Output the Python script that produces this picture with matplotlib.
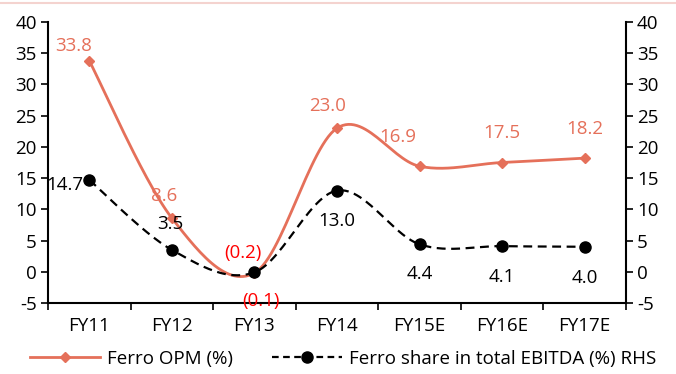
import matplotlib
matplotlib.use('Agg')
import matplotlib.pyplot as plt
from matplotlib.lines import Line2D
import numpy as np

plt.rcParams['font.family'] = ['Open Sans', 'DejaVu Sans']
plt.rcParams['axes.unicode_minus'] = False

categories = ['FY11', 'FY12', 'FY13', 'FY14', 'FY15E', 'FY16E', 'FY17E']
opm = [33.8, 8.6, -0.2, 23.0, 16.9, 17.5, 18.2]
share = [14.7, 3.5, -0.1, 13.0, 4.4, 4.1, 4.0]
opm_labels = ['33.8', '8.6', '(0.2)', '23.0', '16.9', '17.5', '18.2']
share_labels = ['14.7', '3.5', '(0.1)', '13.0', '4.4', '4.1', '4.0']

orange = '#E5705A'
fs = 13.5


def smooth(x, y, n=30):
    # excel-like smoothed line (bezier through points)
    x = np.asarray(x, float)
    y = np.asarray(y, float)
    px = np.r_[x[0], x, x[-1]]
    py = np.r_[y[0], y, y[-1]]
    t = np.linspace(0, 1, n)
    xs, ys = [], []
    for i in range(1, len(px) - 2):
        p0 = np.array([px[i], py[i]])
        p3 = np.array([px[i + 1], py[i + 1]])
        c1 = p0 + (p3 - np.array([px[i - 1], py[i - 1]])) / 6
        c2 = p3 - (np.array([px[i + 2], py[i + 2]]) - p0) / 6
        b = ((1 - t) ** 3)[:, None] * p0 + (3 * (1 - t) ** 2 * t)[:, None] * c1 \
            + (3 * (1 - t) * t ** 2)[:, None] * c2 + (t ** 3)[:, None] * p3
        xs.append(b[:, 0])
        ys.append(b[:, 1])
    return np.concatenate(xs), np.concatenate(ys)


fig = plt.figure(figsize=(6.76, 3.74), dpi=100)
ax = fig.add_axes([0.071, 0.19, 0.855, 0.751])
ax2 = ax.twinx()

x = np.arange(len(categories))

sx, sy = smooth(x, opm)
ax.plot(sx, sy, color=orange, lw=2)
ax.plot(x, opm, ls='none', marker='D', ms=5.5, color=orange)

tx, ty = smooth(x, share)
ax2.plot(tx, ty, color='black', lw=1.6, ls=(0, (4, 2.5)))
ax2.plot(x, share, ls='none', marker='o', ms=8, color='black')

for a in (ax, ax2):
    a.set_ylim(-5, 40)
    a.set_yticks(range(-5, 41, 5))
    a.set_xlim(-0.5, len(categories) - 0.5)
    a.tick_params(axis='y', labelsize=fs, length=5, width=1.2, pad=3)
    for s in a.spines.values():
        s.set_visible(False)

ax.spines['left'].set_visible(True)
ax.spines['left'].set_linewidth(1.5)
ax.spines['bottom'].set_visible(True)
ax.spines['bottom'].set_linewidth(1.5)
ax2.spines['right'].set_visible(True)
ax2.spines['right'].set_linewidth(1.5)

ax.set_xticks(x)
ax.set_xticklabels(categories)
ax.tick_params(axis='x', length=0, labelsize=fs, pad=10)
ax.set_xticks(np.arange(len(categories) + 1) - 0.5, minor=True)
ax.tick_params(axis='x', which='minor', length=5, width=1.2)

# data labels, offsets in pixels
opm_off = [(-16, 15), (-8, 22), (-11, 20), (-9, 22), (-22, 29), (0, 30), (0, 29)]
for i, v in enumerate(opm):
    c = 'red' if v < 0 else orange
    ax.annotate(opm_labels[i], (x[i], v), xytext=opm_off[i], textcoords='offset pixels',
                ha='center', va='center', color=c, fontsize=fs)
share_off = [(-24, -5), (-2, 26), (7, -29), (0, -30), (0, -30), (0, -31), (0, -31)]
for i, v in enumerate(share):
    c = 'red' if v < 0 else 'black'
    ax2.annotate(share_labels[i], (x[i], v), xytext=share_off[i], textcoords='offset pixels',
                 ha='center', va='center', color=c, fontsize=fs)

handles = [Line2D([], [], color=orange, lw=2, marker='D', ms=5.5),
           Line2D([], [], color='black', lw=1.6, ls=(0, (3, 2)), marker='o', ms=8)]
fig.legend(handles, ['Ferro OPM (%)', 'Ferro share in total EBITDA (%) RHS'],
           loc='center', bbox_to_anchor=(0.508, 0.04), ncol=2, frameon=False,
           fontsize=fs, handlelength=3.7, handletextpad=0.4, columnspacing=2.1,
           borderpad=0, borderaxespad=0)

fig.add_artist(Line2D([0, 1], [0.992, 0.992], color='#F4D3CF', lw=1.5))

fig.savefig('out.png', dpi=100)
